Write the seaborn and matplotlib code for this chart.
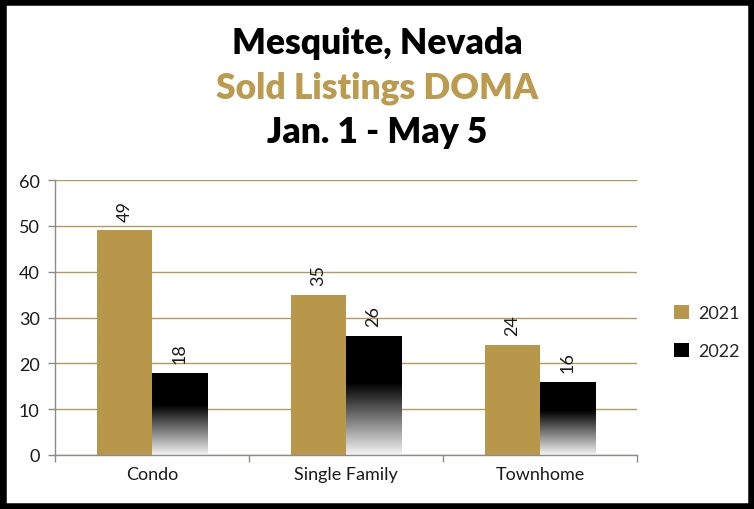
import numpy as np
import pandas as pd
import matplotlib
matplotlib.use("Agg")
import matplotlib.pyplot as plt
from matplotlib.patches import Rectangle
from matplotlib.colors import LinearSegmentedColormap
import seaborn as sns

categories = ["Condo", "Single Family", "Townhome"]
years = ["2021", "2022"]
values_2021 = [49, 35, 24]
values_2022 = [18, 26, 16]
yticks = [0, 10, 20, 30, 40, 50, 60]

GOLD = "#B8974A"
GRID = "#B49A5A"
AXIS = "#8C8C8C"

df = pd.DataFrame({
    "category": categories * 2,
    "year": [years[0]] * 3 + [years[1]] * 3,
    "value": values_2021 + values_2022,
})

sns.set_theme(style="white")
plt.rcParams["font.family"] = ["Lato", "DejaVu Sans"]

W, H = 754, 510
fig = plt.figure(figsize=(W / 100, H / 100), dpi=100)
ax = fig.add_axes([55 / W, (H - 456) / H, (637 - 55) / W, (456 - 181) / H])

sns.barplot(data=df, x="category", y="value", hue="year", order=categories,
            hue_order=years, palette=[GOLD, "black"], width=0.57, gap=0,
            ax=ax, saturation=1, legend=True, edgecolor="none", linewidth=0)

ax.set_ylim(0, 60)
ax.set_xlim(-0.5, 2.5)
ax.set_yticks(yticks)
ax.set_yticklabels([str(t) for t in yticks], fontsize=13, color="#1a1a1a")
ax.set_xlabel("")
ax.set_ylabel("")
ax.tick_params(axis="x", labelsize=13, length=0, pad=8, labelcolor="#1a1a1a")
ax.tick_params(axis="y", length=5, width=1, color=AXIS, pad=6, left=True)
ax.set_xticks([-0.5, 0.5, 1.5, 2.5], minor=True)
ax.tick_params(axis="x", which="minor", length=5, width=1, color=AXIS, bottom=True, direction="out")
ax.grid(axis="y", color=GRID, linewidth=1)
ax.set_axisbelow(True)
for s in ["top", "right"]:
    ax.spines[s].set_visible(False)
for s in ["left", "bottom"]:
    ax.spines[s].set_color(AXIS)
    ax.spines[s].set_linewidth(1)

# gradient for 2022 bars: black at top, fading to near-white at the base
cmap = LinearSegmentedColormap.from_list("g", [(0, "black"), (0.4, "black"), (1.0, "#f4f4f4")])
grad = np.linspace(0, 1, 256).reshape(-1, 1)  # row 0 = top (black)
bars_2022 = ax.containers[1]
for p in bars_2022.patches:
    x0, y0 = p.get_x(), p.get_y()
    w, h = p.get_width(), p.get_height()
    im = ax.imshow(grad, cmap=cmap, extent=[x0, x0 + w, y0, y0 + h], aspect="auto",
                   origin="upper", zorder=p.get_zorder() + 0.1)
    im.set_clip_path(p)
ax.set_xlim(-0.5, 2.5)
ax.set_ylim(0, 60)

for cont in ax.containers:
    for p in cont.patches:
        v = p.get_height()
        ax.annotate(f"{v:.0f}", (p.get_x() + p.get_width() / 2, v), xytext=(0, 7),
                    textcoords="offset points", ha="center", va="bottom",
                    rotation=90, fontsize=13, color="#1a1a1a")

leg = ax.get_legend()
handles, labels = ax.get_legend_handles_labels()
leg.remove()
fig.legend(handles, labels, loc="center left", bbox_to_anchor=(658 / W, 1 - 333 / H),
           frameon=False, fontsize=13, handlelength=0.8, handleheight=0.8,
           labelspacing=1.2, handletextpad=0.5)

title_kw = dict(ha="center", va="center", fontsize=25.5, fontweight="heavy")
fig.text(0.5, 1 - 43 / H, "Mesquite, Nevada", color="black", **title_kw)
fig.text(0.5, 1 - 88 / H, "Sold Listings DOMA", color="#BC9A4E", **title_kw)
fig.text(0.5, 1 - 133 / H, "Jan. 1 - May 5", color="black", **title_kw)

fig.add_artist(Rectangle((0, 0), 1, 1, transform=fig.transFigure, fill=False,
                         edgecolor="black", linewidth=9, clip_on=False))

fig.savefig("out.png", dpi=100)
